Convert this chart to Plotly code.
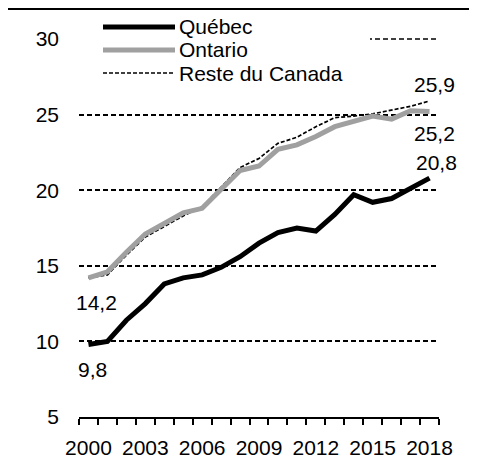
import plotly.graph_objects as go

years = list(range(2000, 2019))
quebec = [9.8, 10.0, 11.4, 12.5, 13.8, 14.2, 14.4, 14.9, 15.6, 16.5, 17.2, 17.5, 17.3, 18.4, 19.7, 19.2, 19.45, 20.1, 20.8]
ontario = [14.2, 14.6, 15.9, 17.1, 17.8, 18.5, 18.8, 20.0, 21.3, 21.6, 22.7, 23.0, 23.55, 24.2, 24.55, 24.9, 24.7, 25.25, 25.2]
reste = [14.2, 14.4, 15.7, 16.9, 17.6, 18.3, 18.9, 20.2, 21.5, 22.1, 23.1, 23.5, 24.2, 24.8, 24.9, 25.05, 25.3, 25.55, 25.9]
series_names = ["Québec", "Ontario", "Reste du Canada"]
xtick_vals = [2000, 2003, 2006, 2009, 2012, 2015, 2018]
ytick_vals = [5, 10, 15, 20, 25, 30]

FONT = "Liberation Sans, Arial, sans-serif"
FS = 21
GRAY = "#a0a0a0"

fig = go.Figure()
fig.add_trace(go.Scatter(x=years, y=reste, mode="lines", name=series_names[2],
                         line=dict(color="black", width=1.7, dash="4px,2px")))
fig.add_trace(go.Scatter(x=years, y=ontario, mode="lines", name=series_names[1],
                         line=dict(color=GRAY, width=5)))
fig.add_trace(go.Scatter(x=years, y=quebec, mode="lines", name=series_names[0],
                         line=dict(color="black", width=5)))

# the page body adds an 8px offset; the figure fills the rest of the window
OFF = 8
W, H = 477 - OFF, 460 - OFF
L, R, T, B = 79 - OFF, 38, 39 - OFF, 43
pw, ph = W - L - R, H - T - B

def px_x(p):  # window pixel -> paper x
    return (p - OFF - L) / pw

def px_y(p):  # window pixel -> paper y
    return (H - B - (p - OFF)) / ph

shapes = []
# top rule
shapes.append(dict(type="rect", xref="paper", yref="paper", x0=px_x(6), x1=px_x(480),
                   y0=px_y(10), y1=px_y(4), fillcolor="black", line=dict(width=0)))
# top gridline (the edge one is not drawn by the axis), partly hidden by the legend box
shapes.append(dict(type="line", xref="paper", yref="paper", x0=0, x1=1, y0=1, y1=1,
                   line=dict(color="black", width=1.7, dash="5px,3px"), layer="below"))
# legend background
shapes.append(dict(type="rect", xref="paper", yref="paper", x0=px_x(74), x1=px_x(370),
                   y0=px_y(12), y1=px_y(88), fillcolor="white", line=dict(width=0), layer="above"))
legend_rows = [(27, "black", 5, "solid"), (50, GRAY, 5, "solid"), (73, "black", 1.7, "4px,2px")]
annotations = []
for (yy, col, w, d), name in zip(legend_rows, series_names):
    shapes.append(dict(type="line", xref="paper", yref="paper", x0=px_x(103), x1=px_x(175),
                       y0=px_y(yy), y1=px_y(yy), line=dict(color=col, width=w, dash=d), layer="above"))
    annotations.append(dict(xref="paper", yref="paper", x=px_x(177), y=px_y(yy), text=name,
                            showarrow=False, xanchor="left", yanchor="middle",
                            font=dict(family=FONT, size=FS, color="black")))

def fmt(v):
    return f"{v:.1f}".replace(".", ",")

labels = [
    (years[-1], reste[-1], 5, 16),
    (years[-1], ontario[-1], 5, -22),
    (years[-1], quebec[-1], 7, 16),
    (years[0], ontario[0], 8, -25),
    (years[0], quebec[0], 4, -25),
]
for x, y, xs, ys in labels:
    annotations.append(dict(x=x, y=y, text=fmt(y), showarrow=False, xshift=xs, yshift=ys,
                            xanchor="center", yanchor="middle",
                            font=dict(family=FONT, size=FS, color="black")))

fig.update_layout(
    template="none",
    width=W, height=H, margin=dict(l=L, r=R, t=T, b=B, autoexpand=False),
    paper_bgcolor="white", plot_bgcolor="white", showlegend=False,
    font=dict(family=FONT, size=FS, color="black"),
    shapes=shapes, annotations=annotations,
)
fig.update_xaxes(range=[1999.5, 2018.5], tickmode="array", tickvals=xtick_vals,
                 ticks="", showgrid=False, zeroline=False, automargin=False,
                 showline=True, linecolor="black", linewidth=2,
                 ticklabelstandoff=11,
                 minor=dict(tickmode="array", tickvals=[y - 0.5 for y in years] + [2018.5],
                            ticks="outside", ticklen=6, tickwidth=1.5, tickcolor="black", showgrid=False))
fig.update_yaxes(range=[5, 30], tickmode="array", tickvals=ytick_vals, ticks="",
                 showgrid=True, gridcolor="black", gridwidth=1.7, griddash="5px,3px",
                 zeroline=False, showline=False, automargin=False, ticklabelstandoff=19)

fig.write_html("out.html")
